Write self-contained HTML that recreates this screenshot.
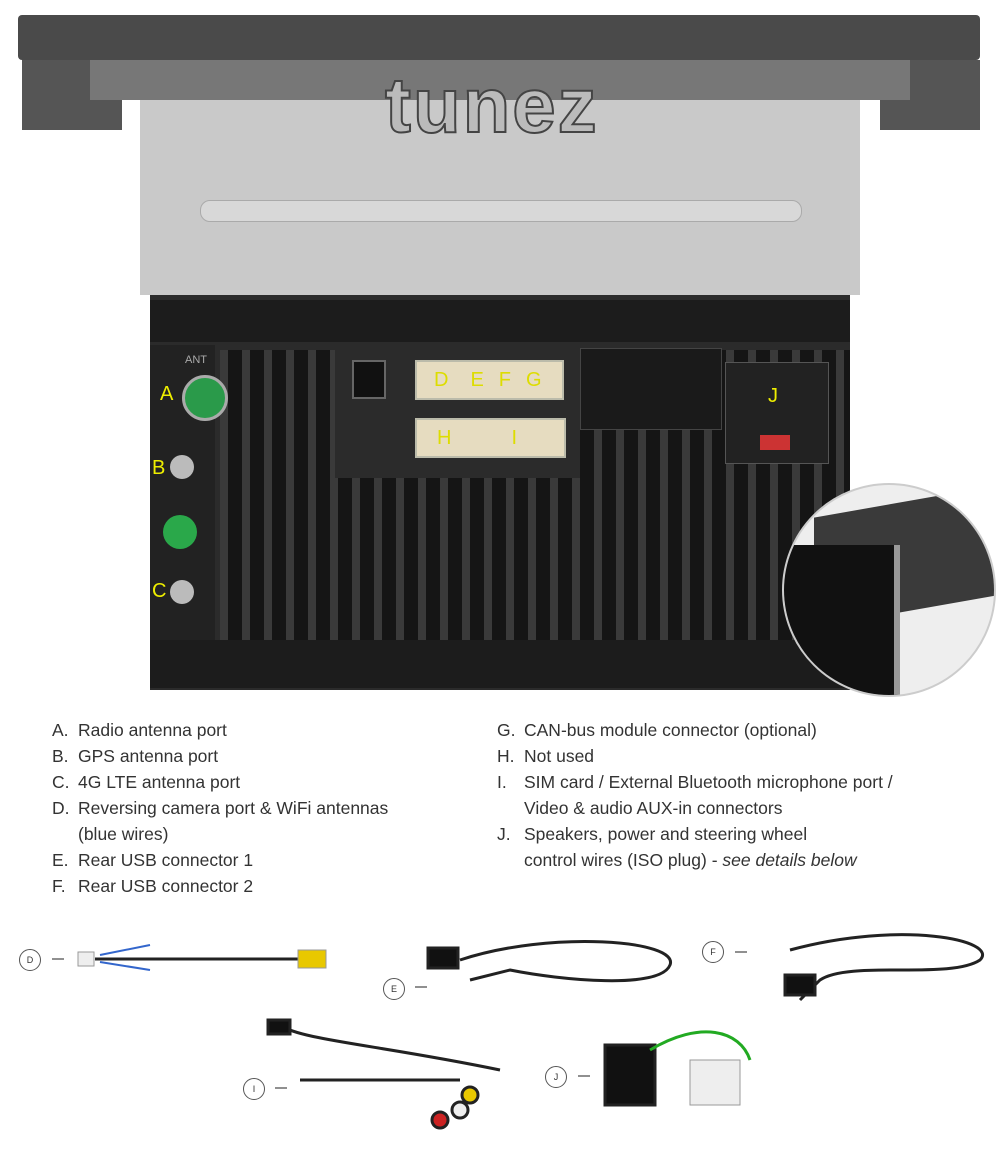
<!DOCTYPE html>
<html><head><meta charset="utf-8"><style>
body{margin:0;width:1000px;height:1149px;background:#fff;position:relative;overflow:hidden;font-family:"Liberation Sans",sans-serif}
.a{position:absolute}
.t{position:absolute;font-size:17.5px;color:#333;line-height:26px;white-space:nowrap}
.conn{position:absolute;background:#e6dcc0;border:2px solid #bba;color:#dd0;font-size:20px;line-height:36px}
.lbl{position:absolute;width:20px;height:20px;border:1px solid #555;border-radius:50%;font-size:9px;text-align:center;line-height:20px;color:#333}
</style></head><body>
<div class="a" style="left:18px;top:15px;width:962px;height:45px;background:#4a4a4a;border-radius:4px"></div>
<div class="a" style="left:22px;top:60px;width:100px;height:70px;background:#555"></div>
<div class="a" style="left:880px;top:60px;width:100px;height:70px;background:#555"></div>
<div class="a" style="left:90px;top:60px;width:820px;height:40px;background:#777"></div>
<div class="a" style="left:140px;top:100px;width:720px;height:195px;background:#c9c9c9"></div>
<div class="a" style="left:200px;top:200px;width:600px;height:20px;background:#d8d8d8;border-radius:10px;border:1px solid #aaa"></div>
<div class="a" style="left:385px;top:60px;font-size:78px;font-weight:bold;color:#bbb;-webkit-text-stroke:2px #444;letter-spacing:2px">tunez</div>
<div class="a" style="left:150px;top:295px;width:700px;height:395px;background:#2b2b2b"></div>
<div class="a" style="left:150px;top:300px;width:700px;height:42px;background:#1c1c1c"></div>
<div class="a" style="left:150px;top:640px;width:700px;height:48px;background:#1c1c1c"></div>
<div class="a" style="left:220px;top:350px;width:630px;height:290px;background:repeating-linear-gradient(90deg,#3a3a3a 0 8px,#151515 8px 22px)"></div>
<div class="a" style="left:335px;top:348px;width:245px;height:130px;background:#2b2b2b"></div>
<div class="a" style="left:580px;top:348px;width:140px;height:80px;background:#1a1a1a;border:1px solid #444"></div>
<div class="a" style="left:725px;top:362px;width:102px;height:100px;background:#222;border:1px solid #555"></div>
<div class="a" style="left:768px;top:385px;color:#ee0;font-size:20px">J</div>
<div class="a" style="left:760px;top:435px;width:30px;height:15px;background:#c33"></div>
<div class="a" style="left:352px;top:360px;width:30px;height:35px;background:#111;border:2px solid #666"></div>
<div class="conn" style="left:415px;top:360px;width:145px;height:36px"><span style="margin-left:17px">D</span><span style="margin-left:22px">E</span><span style="margin-left:15px">F</span><span style="margin-left:15px">G</span></div>
<div class="conn" style="left:415px;top:418px;width:147px;height:36px"><span style="margin-left:20px">H</span><span style="margin-left:60px">I</span></div>
<div class="a" style="left:150px;top:345px;width:65px;height:295px;background:#222"></div>
<div class="a" style="left:182px;top:375px;width:40px;height:40px;border-radius:50%;background:#2a9a4a;border:3px solid #aaa"></div>
<div class="a" style="left:160px;top:383px;color:#ee0;font-size:20px">A</div>
<div class="a" style="left:185px;top:354px;color:#aaa;font-size:11px">ANT</div>
<div class="a" style="left:152px;top:457px;color:#ee0;font-size:20px">B</div>
<div class="a" style="left:170px;top:455px;width:24px;height:24px;border-radius:50%;background:#bbb"></div>
<div class="a" style="left:163px;top:515px;width:34px;height:34px;border-radius:50%;background:#2aa84a"></div>
<div class="a" style="left:152px;top:580px;color:#ee0;font-size:20px">C</div>
<div class="a" style="left:170px;top:580px;width:24px;height:24px;border-radius:50%;background:#bbb"></div>
<div class="a" style="left:782px;top:483px;width:210px;height:210px;border-radius:50%;background:#eee;border:2px solid #ccc;overflow:hidden">
 <div class="a" style="left:30px;top:15px;width:200px;height:110px;background:#3a3a3a;transform:skewY(-10deg)"></div>
 <div class="a" style="left:0;top:60px;width:110px;height:150px;background:#111;border-right:6px solid #999"></div>
</div>
<div class="t" style="left:52px;top:717px">A.</div><div class="t" style="left:78px;top:717px">Radio antenna port</div>
<div class="t" style="left:52px;top:743px">B.</div><div class="t" style="left:78px;top:743px">GPS antenna port</div>
<div class="t" style="left:52px;top:769px">C.</div><div class="t" style="left:78px;top:769px">4G LTE antenna port</div>
<div class="t" style="left:52px;top:795px">D.</div><div class="t" style="left:78px;top:795px">Reversing camera port &amp; WiFi antennas<br>(blue wires)</div>
<div class="t" style="left:52px;top:847px">E.</div><div class="t" style="left:78px;top:847px">Rear USB connector 1</div>
<div class="t" style="left:52px;top:873px">F.</div><div class="t" style="left:78px;top:873px">Rear USB connector 2</div>
<div class="t" style="left:497px;top:717px">G.</div><div class="t" style="left:524px;top:717px">CAN-bus module connector (optional)</div>
<div class="t" style="left:497px;top:743px">H.</div><div class="t" style="left:524px;top:743px">Not used</div>
<div class="t" style="left:497px;top:769px">I.</div><div class="t" style="left:524px;top:769px">SIM card / External Bluetooth microphone port /<br>Video &amp; audio AUX-in connectors</div>
<div class="t" style="left:497px;top:821px">J.</div><div class="t" style="left:524px;top:821px">Speakers, power and steering wheel<br>control wires (ISO plug) - <i>see details below</i></div>
<div class="lbl" style="left:19px;top:949px">D</div>
<div class="lbl" style="left:383px;top:978px">E</div>
<div class="lbl" style="left:702px;top:941px">F</div>
<div class="lbl" style="left:243px;top:1078px">I</div>
<div class="lbl" style="left:545px;top:1066px">J</div>
<svg class="a" style="left:0;top:900px" width="1000" height="249">
<g stroke="#222" stroke-width="3" fill="none">
<line x1="52" y1="59" x2="64" y2="59" stroke-width="1"/>
<path d="M95 59 L300 59"/><rect x="78" y="52" width="16" height="14" fill="#eee" stroke="#999" stroke-width="1"/>
<path d="M100 55 L150 45 M100 62 L150 70" stroke="#36c" stroke-width="2"/>
<rect x="298" y="50" width="28" height="18" fill="#e8c800" stroke="#999" stroke-width="1"/>
<line x1="415" y1="87" x2="427" y2="87" stroke-width="1"/>
<path d="M460 60 C550 30 680 40 670 65 C660 90 560 80 510 70 L470 80"/><rect x="428" y="48" width="30" height="20" fill="#111"/>
<line x1="735" y1="52" x2="747" y2="52" stroke-width="1"/>
<path d="M790 50 C900 20 1000 40 980 60 C950 80 850 60 820 80 L800 100"/><rect x="785" y="75" width="30" height="20" fill="#111"/>
<line x1="275" y1="188" x2="287" y2="188" stroke-width="1"/>
<path d="M280 125 C300 140 380 145 500 170 M300 180 L460 180"/><rect x="268" y="120" width="22" height="14" fill="#111"/>
<circle cx="440" cy="220" r="8" fill="#c22"/><circle cx="460" cy="210" r="8" fill="#eee"/><circle cx="470" cy="195" r="8" fill="#e8c800"/>
<line x1="578" y1="176" x2="590" y2="176" stroke-width="1"/>
<rect x="605" y="145" width="50" height="60" fill="#111"/>
<path d="M650 150 C700 120 740 130 750 160" stroke="#2a2" /><rect x="690" y="160" width="50" height="45" fill="#eee" stroke="#999" stroke-width="1"/>
</g></svg>
</body></html>
